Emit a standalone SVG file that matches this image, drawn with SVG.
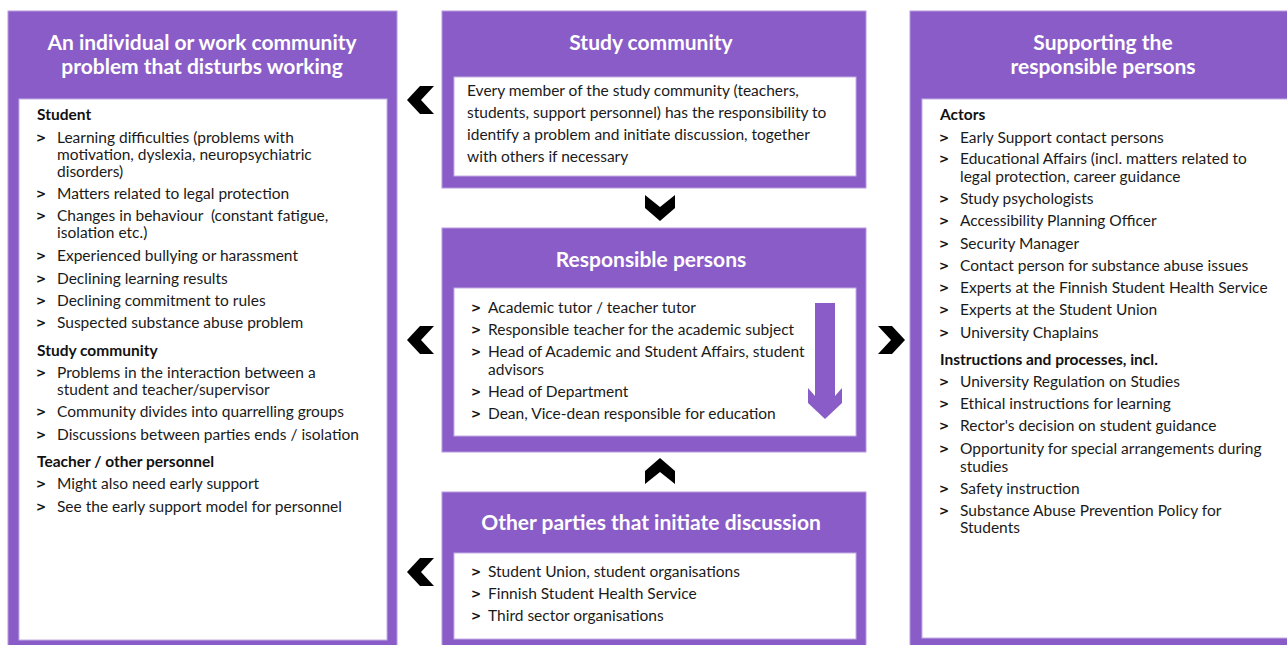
<svg xmlns="http://www.w3.org/2000/svg" width="1287" height="645" viewBox="0 0 1287 645">
<defs>
<style>
.panel{fill:#8a5cc8;stroke:#b79ae0;stroke-width:1}
.inner{fill:#ffffff;stroke:#c4aee6;stroke-width:1}
.title{font-family:Lato,"Open Sans",sans-serif;font-weight:700;font-size:21px;fill:#ffffff;text-anchor:middle}
.t{font-family:Lato,"Open Sans",sans-serif;font-size:15.5px;fill:#1a1a1a}
.h{font-family:Lato,"Open Sans",sans-serif;font-size:15.5px;font-weight:700;fill:#111111}
.b{font-family:"DejaVu Sans",sans-serif;font-size:12px;font-weight:700;fill:#111111}
.chev{fill:#000000}
</style>
</defs>
<rect width="1287" height="645" fill="#ffffff"/>

<g id="problem">
<rect class="panel" x="8" y="11" width="389" height="640"/>
<rect class="inner" x="19" y="99" width="368" height="541"/>
<text class="title" x="202" y="50">An individual or work community</text>
<text class="title" x="202" y="74">problem that disturbs working</text>
<text class="h" x="37" y="120">Student</text>
<g class="b"><text x="36" y="142">&gt;</text><text x="36" y="198">&gt;</text><text x="36" y="220">&gt;</text><text x="36" y="260">&gt;</text><text x="36" y="283">&gt;</text><text x="36" y="305">&gt;</text><text x="36" y="327">&gt;</text><text x="36" y="377">&gt;</text><text x="36" y="416">&gt;</text><text x="36" y="439">&gt;</text><text x="36" y="488">&gt;</text><text x="36" y="511">&gt;</text></g>
<text class="t" x="57" y="143">Learning difficulties (problems with</text>
<text class="t" x="57" y="160">motivation, dyslexia, neuropsychiatric</text>
<text class="t" x="57" y="177">disorders)</text>
<text class="t" x="57" y="199">Matters related to legal protection</text>
<text class="t" x="57" y="221" xml:space="preserve">Changes in behaviour  (constant fatigue,</text>
<text class="t" x="57" y="238">isolation etc.)</text>
<text class="t" x="57" y="261">Experienced bullying or harassment</text>
<text class="t" x="57" y="284">Declining learning results</text>
<text class="t" x="57" y="306">Declining commitment to rules</text>
<text class="t" x="57" y="328">Suspected substance abuse problem</text>
<text class="h" x="37" y="356">Study community</text>
<text class="t" x="57" y="378">Problems in the interaction between a</text>
<text class="t" x="57" y="395">student and teacher/supervisor</text>
<text class="t" x="57" y="417">Community divides into quarrelling groups</text>
<text class="t" x="57" y="440">Discussions between parties ends / isolation</text>
<text class="h" x="37" y="467">Teacher / other personnel</text>
<text class="t" x="57" y="489">Might also need early support</text>
<text class="t" x="57" y="512">See the early support model for personnel</text>
</g>

<g id="study-community">
<rect class="panel" x="442" y="11" width="424" height="177"/>
<rect class="inner" x="454" y="77" width="402" height="99"/>
<text class="title" x="651" y="50">Study community</text>
<text class="t" x="467" y="96">Every member of the study community (teachers,</text>
<text class="t" x="467" y="118">students, support personnel) has the responsibility to</text>
<text class="t" x="467" y="140">identify a problem and initiate discussion, together</text>
<text class="t" x="467" y="162">with others if necessary</text>
</g>

<g id="responsible-persons">
<rect class="panel" x="442" y="228" width="424" height="224"/>
<rect class="inner" x="454" y="288" width="402" height="148"/>
<text class="title" x="651" y="267">Responsible persons</text>
<g class="b"><text x="471" y="312">&gt;</text><text x="471" y="334">&gt;</text><text x="471" y="356">&gt;</text><text x="471" y="396">&gt;</text><text x="471" y="418">&gt;</text></g>
<text class="t" x="488" y="313">Academic tutor / teacher tutor</text>
<text class="t" x="488" y="335">Responsible teacher for the academic subject</text>
<text class="t" x="488" y="357">Head of Academic and Student Affairs, student</text>
<text class="t" x="488" y="375">advisors</text>
<text class="t" x="488" y="397">Head of Department</text>
<text class="t" x="488" y="419">Dean, Vice-dean responsible for education</text>
<polygon fill="#8a5cc8" points="815,303 835,303 835,396 842,388 842,403 825,419 808,403 808,388 815,396"/>
</g>

<g id="other-parties">
<rect class="panel" x="442" y="492" width="424" height="160"/>
<rect class="inner" x="454" y="553" width="402" height="86"/>
<text class="title" x="651" y="530">Other parties that initiate discussion</text>
<g class="b"><text x="471" y="576">&gt;</text><text x="471" y="598">&gt;</text><text x="471" y="620">&gt;</text></g>
<text class="t" x="488" y="577">Student Union, student organisations</text>
<text class="t" x="488" y="599">Finnish Student Health Service</text>
<text class="t" x="488" y="621">Third sector organisations</text>
</g>

<g id="supporting">
<rect class="panel" x="910" y="11" width="400" height="640"/>
<rect class="inner" x="922" y="99" width="380" height="539"/>
<text class="title" x="1103" y="50">Supporting the</text>
<text class="title" x="1103" y="74">responsible persons</text>
<text class="h" x="940" y="120">Actors</text>
<g class="b"><text x="939" y="142">&gt;</text><text x="939" y="163">&gt;</text><text x="939" y="203">&gt;</text><text x="939" y="225">&gt;</text><text x="939" y="248">&gt;</text><text x="939" y="270">&gt;</text><text x="939" y="292">&gt;</text><text x="939" y="314">&gt;</text><text x="939" y="337">&gt;</text><text x="939" y="386">&gt;</text><text x="939" y="408">&gt;</text><text x="939" y="430">&gt;</text><text x="939" y="453">&gt;</text><text x="939" y="493">&gt;</text><text x="939" y="515">&gt;</text></g>
<text class="t" x="960" y="143">Early Support contact persons</text>
<text class="t" x="960" y="164">Educational Affairs (incl. matters related to</text>
<text class="t" x="960" y="182">legal protection, career guidance</text>
<text class="t" x="960" y="204">Study psychologists</text>
<text class="t" x="960" y="226">Accessibility Planning Officer</text>
<text class="t" x="960" y="249">Security Manager</text>
<text class="t" x="960" y="271">Contact person for substance abuse issues</text>
<text class="t" x="960" y="293">Experts at the Finnish Student Health Service</text>
<text class="t" x="960" y="315">Experts at the Student Union</text>
<text class="t" x="960" y="338">University Chaplains</text>
<text class="h" x="940" y="365">Instructions and processes, incl.</text>
<text class="t" x="960" y="387">University Regulation on Studies</text>
<text class="t" x="960" y="409">Ethical instructions for learning</text>
<text class="t" x="960" y="431">Rector's decision on student guidance</text>
<text class="t" x="960" y="454">Opportunity for special arrangements during</text>
<text class="t" x="960" y="472">studies</text>
<text class="t" x="960" y="494">Safety instruction</text>
<text class="t" x="960" y="516">Substance Abuse Prevention Policy for</text>
<text class="t" x="960" y="533">Students</text>
</g>

<g id="connectors">
<polygon class="chev" points="407,100 420,86 434,86 421,100 434,114 420,114"/>
<polygon class="chev" points="407,340 420,326 434,326 421,340 434,354 420,354"/>
<polygon class="chev" points="407,572 420,558 434,558 421,572 434,586 420,586"/>
<polygon class="chev" points="905,340 892,326 878,326 891,340 878,354 892,354"/>
<polygon class="chev" points="645,195 660,207 675,195 675,208 660,221 645,208"/>
<polygon class="chev" points="645,484 660,472 675,484 675,471 660,458 645,471"/>
</g>
</svg>
